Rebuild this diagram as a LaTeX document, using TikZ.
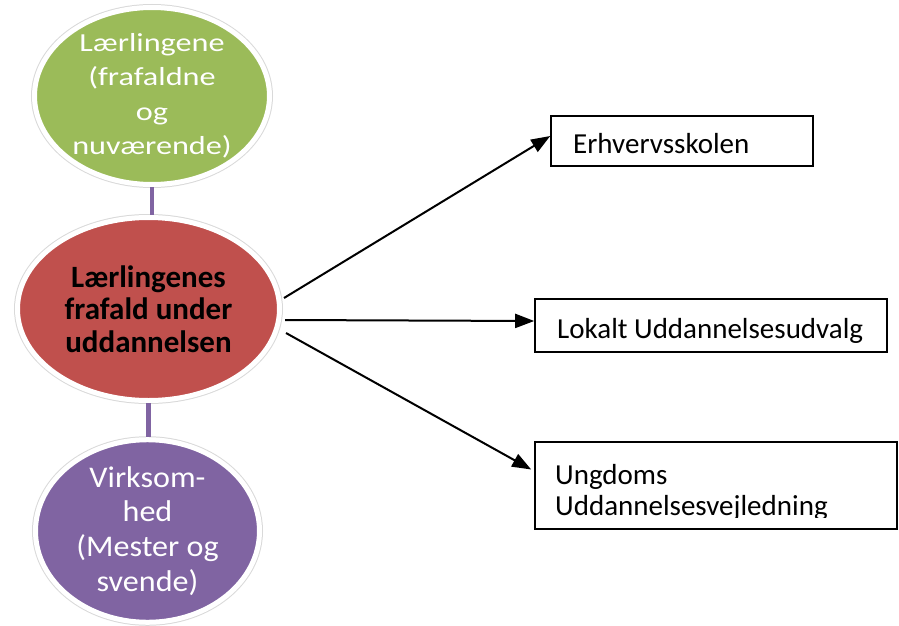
\documentclass[tikz,border=0pt]{standalone}
\usepackage{fontspec}
\setmainfont{Carlito}
\newfontfamily\greenfont[FakeStretch=1.24]{Carlito}
\newfontfamily\purplefont[FakeStretch=1.07]{Carlito}
\usetikzlibrary{shapes.geometric,arrows.meta}
\definecolor{ogreen}{HTML}{9BBB59}
\definecolor{ored}{HTML}{C0504D}
\definecolor{opurple}{HTML}{8064A2}
\begin{document}
\begin{tikzpicture}[x=1pt,y=-1pt,
  oval/.style={ellipse, draw=white, line width=5pt, inner sep=0pt, align=center,
    preaction={draw=black!15, line width=7pt}},
  plink/.style={draw=opurple, line width=4.5pt},
  arr/.style={draw=black, line width=2pt, -{Triangle[length=19pt,width=14pt]}},
  boxnode/.style={rectangle, draw=black, line width=1.6pt, inner sep=0pt},
  boxtext/.style={inner sep=0pt, font=\fontsize{29}{31}\selectfont, align=left}
]
\useasboundingbox (0,0) rectangle (899,626);
% ellipses
\node[oval, fill=ogreen, text=white, minimum width=235pt, minimum height=167pt,
  font=\greenfont\fontsize{26}{34.5}\selectfont] (g) at (152,96)
  {Lærlingene\\(frafaldne\\og\\nuværende)};
\node[oval, fill=ored, text=black, minimum width=262pt, minimum height=183pt,
  font=\bfseries\fontsize{31}{32.5}\selectfont] (r) at (148.5,309)
  {Lærlingenes\\frafald under\\uddannelsen};
\node[oval, fill=opurple, text=white, minimum width=224pt, minimum height=181pt,
  font=\purplefont\fontsize{30}{34.7}\selectfont] (p) at (147.5,531)
  {Virksom-\\hed\\(Mester og\\svende)};
% vertical connectors
\draw[plink] (g.south) -- (g.south |- r.north);
\draw[plink] (r.south) -- (r.south |- p.north);
% boxes
\node[boxnode, minimum width=262pt, minimum height=50pt] (b1) at (682,141) {};
\node[boxnode, minimum width=352pt, minimum height=53pt] (b2) at (711,325.5) {};
\node[boxnode, minimum width=362pt, minimum height=87pt] (b3) at (716,485.5) {};
\node[boxtext, anchor=base west] (t1) at (573,153) {Erhvervsskolen};
\node[boxtext, anchor=base west] (t2) at (557,338) {Lokalt Uddannelsesudvalg};
\begin{scope}
  \clip (537,443) rectangle (896,517.5);
  \node[boxtext, anchor=west] (t3) at (555,492) {Ungdoms\\Uddannelsesvejledning};
\end{scope}
% arrows
\coordinate (s1) at (284,298);
\coordinate (s2) at (285,320);
\coordinate (s3) at (286,333);
\draw[arr] (s1) -- ([yshift=5pt]b1.west);
\draw[arr] (s2) -- ([yshift=4.5pt]b2.west);
\draw[arr] (s3) -- ([xshift=-3pt,yshift=16pt]b3.west);
\end{tikzpicture}
\end{document}
